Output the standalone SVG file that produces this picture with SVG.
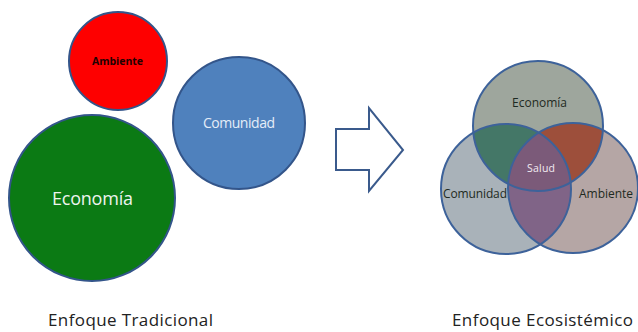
<svg xmlns="http://www.w3.org/2000/svg" width="638" height="332" viewBox="0 0 638 332">
<style>
text{font-family:"Open Sans","Liberation Sans",sans-serif}
.ol{stroke:#33558a;stroke-width:2}
.vo{fill:none;stroke:#3d629a;stroke-width:2}
.cap{font-size:17px;fill:#222}
.vl{font-size:12px;fill:#1e2a22}
</style>
<defs>
<clipPath id="cE"><circle cx="538" cy="126" r="65"/></clipPath>
<clipPath id="cC"><circle cx="506" cy="189" r="65"/></clipPath>
</defs>
<rect width="638" height="332" fill="#fff"/>
<g id="tradicional">
<g id="n-ambiente">
<circle cx="118" cy="61" r="49" fill="#fe0000" class="ol"/>
<text x="117.5" y="65" font-size="10.5" font-weight="bold" text-anchor="middle" fill="#200" textLength="51">Ambiente</text>
</g>
<g id="n-comunidad">
<circle cx="239" cy="123" r="66" fill="#4f81bd" class="ol"/>
<text x="239" y="128" font-size="14" text-anchor="middle" fill="#e4edf8" textLength="72">Comunidad</text>
</g>
<g id="n-economia">
<circle cx="92" cy="198" r="83" fill="#0b7a14" class="ol"/>
<text x="92.5" y="205" font-size="18" text-anchor="middle" fill="#eef4ee" textLength="81">Economía</text>
</g>
</g>
<g id="connectors">
<polygon points="336,129 369,129 369,108 403,150 369,191 369,170 336,170" fill="#fff" stroke="#3a5a8c" stroke-width="2" stroke-linejoin="miter"/>
</g>
<g id="ecosistemico">
<g id="v-economia"><circle cx="538" cy="126" r="65" fill="#9ea69d"/></g>
<g id="v-comunidad"><circle cx="506" cy="189" r="65" fill="#a9b2b9"/></g>
<g id="v-ambiente"><circle cx="573" cy="188" r="65" fill="#b5a6a5"/></g>
<circle cx="506" cy="189" r="65" fill="#447767" clip-path="url(#cE)"/>
<circle cx="573" cy="188" r="65" fill="#9d4f3b" clip-path="url(#cE)"/>
<circle cx="573" cy="188" r="65" fill="#806487" clip-path="url(#cC)"/>
<g clip-path="url(#cE)"><circle cx="573" cy="188" r="65" fill="#7b5a79" clip-path="url(#cC)"/></g>
<circle cx="538" cy="126" r="65" class="vo"/>
<circle cx="506" cy="189" r="65" class="vo"/>
<circle cx="573" cy="188" r="65" class="vo"/>
<text x="539.5" y="107" class="vl" text-anchor="middle" textLength="55">Economía</text>
<text x="541" y="172" font-size="10.5" fill="#f2eaf2" text-anchor="middle" textLength="28">Salud</text>
<text x="475" y="198" class="vl" text-anchor="middle" textLength="64">Comunidad</text>
<text x="606" y="198" class="vl" text-anchor="middle" fill="#2e1e1e" textLength="54">Ambiente</text>
</g>
<text x="130.5" y="326" class="cap" text-anchor="middle" textLength="165">Enfoque Tradicional</text>
<text x="542.5" y="326" class="cap" text-anchor="middle" textLength="181">Enfoque Ecosistémico</text>
</svg>
